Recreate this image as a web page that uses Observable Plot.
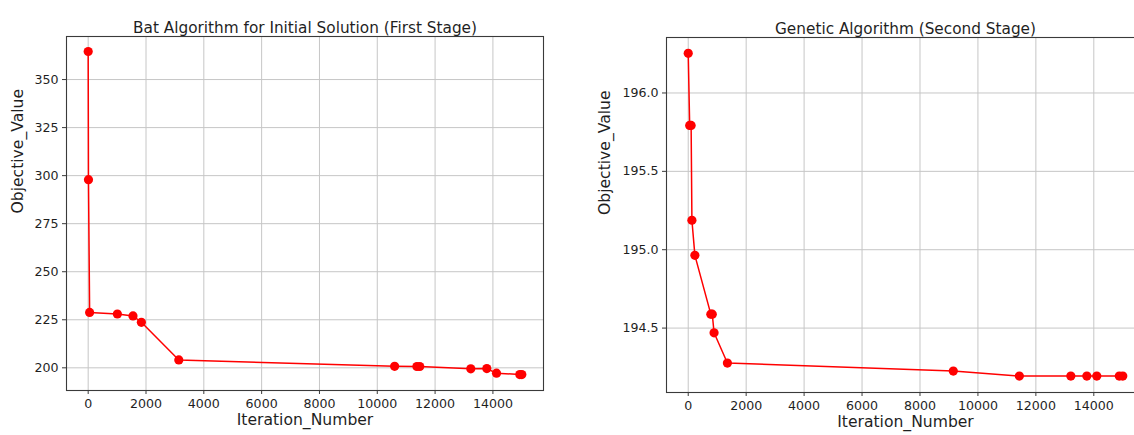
<!DOCTYPE html>
<html>
<head>
<meta charset="utf-8">
<script src="https://cdn.jsdelivr.net/npm/d3@7"></script>
<script src="https://cdn.jsdelivr.net/npm/@observablehq/plot@0.6"></script>
<style>
  html, body { margin: 0; padding: 0; background: #fff; width: 1134px; height: 435px; overflow: hidden; }
  #wrap { position: relative; width: 1134px; height: 435px; overflow: hidden; }
  .panel { position: absolute; top: 0; }
  .panel svg { max-width: none !important; }
</style>
</head>
<body>
<div id="wrap">
  <div class="panel" id="left" style="left:0px; width:560px"></div>
  <div class="panel" id="right" style="left:570px; width:580px"></div>
</div>
<script>
// ---- Data: Bat Algorithm (first stage)
const batIter = [0, 10, 50, 1010, 1550, 1840, 3135, 10600, 11370, 11470, 13235, 13790, 14125, 14930, 15000];
const batObj  = [364.6, 297.9, 228.8, 228.0, 227.0, 223.7, 204.1, 200.8, 200.7, 200.7, 199.5, 199.6, 197.2, 196.5, 196.5];

// ---- Data: Genetic Algorithm (second stage)
const gaIter = [0, 50, 100, 127, 230, 780, 830, 892, 1352, 9150, 11430, 13207, 13760, 14103, 14880, 15000];
const gaObj  = [196.253, 195.793, 195.793, 195.188, 194.964, 194.589, 194.589, 194.470, 194.277, 194.226, 194.194, 194.194, 194.194, 194.194, 194.194, 194.194];

// ---- Ticks and labels
const xTicks = [0, 2000, 4000, 6000, 8000, 10000, 12000, 14000];
const batYTicks = [200, 225, 250, 275, 300, 325, 350];
const gaYTicks = [194.5, 195.0, 195.5, 196.0];
const batTitle = "Bat Algorithm for Initial Solution (First Stage)";
const gaTitle = "Genetic Algorithm (Second Stage)";
const xLabel = "Iteration_Number";
const yLabel = "Objective_Value";

const batData = batIter.map((x, i) => ({x, y: batObj[i]}));
const gaData = gaIter.map((x, i) => ({x, y: gaObj[i]}));

const FONT = "DejaVu Sans, sans-serif";
const TXT = "#1f1f1f";

function panel({data, width, marginLeft, marginRight, marginTop, marginBottom, yDomain, yTicks, yFormat, title, yLabelDx}) {
  return Plot.plot({
    width, height: 435,
    marginLeft, marginRight, marginTop, marginBottom,
    style: {fontFamily: FONT, fontSize: "12.6px", color: TXT, background: "white", overflow: "visible", maxWidth: "none"},
    x: {domain: [-750, 15750]},
    y: {domain: yDomain},
    marks: [
      Plot.gridX(xTicks, {stroke: "#c6c6c6", strokeOpacity: 1, strokeWidth: 1}),
      Plot.gridY(yTicks, {stroke: "#c6c6c6", strokeOpacity: 1, strokeWidth: 1}),
      Plot.frame({stroke: "#3a3a3a", strokeWidth: 1.1}),
      Plot.axisX(xTicks, {tickSize: 4, tickPadding: 5, label: null, stroke: "#3a3a3a", fill: TXT, tickFormat: d => String(d)}),
      Plot.axisY(yTicks, {tickSize: 4, tickPadding: 4, label: null, stroke: "#3a3a3a", fill: TXT, tickFormat: yFormat}),
      Plot.line(data, {x: "x", y: "y", stroke: "#ff0000", strokeWidth: 1.5}),
      Plot.dot(data, {x: "x", y: "y", r: 4.6, fill: "#ff0000", stroke: "none"}),
      Plot.text([title], {frameAnchor: "top", dy: -14.5, text: d => d, fontSize: 15.3, fill: TXT}),
      Plot.text([xLabel], {frameAnchor: "bottom", dy: 34, text: d => d, fontSize: 15.6, fill: TXT}),
      Plot.text([yLabel], {frameAnchor: "left", dx: yLabelDx, rotate: -90, text: d => d, fontSize: 15.6, fill: TXT})
    ]
  });
}

document.getElementById("left").appendChild(panel({
  data: batData, width: 560, marginLeft: 66, marginRight: 17, marginTop: 36, marginBottom: 45,
  yDomain: [188.2, 372.4], yTicks: batYTicks, yFormat: d => String(d), title: batTitle, yLabelDx: -49
}));

document.getElementById("right").appendChild(panel({
  data: gaData, width: 580, marginLeft: 96, marginRight: 6, marginTop: 37, marginBottom: 43,
  yDomain: [194.089, 196.354], yTicks: gaYTicks, yFormat: d => d.toFixed(1), title: gaTitle, yLabelDx: -62
}));
</script>
</body>
</html>
